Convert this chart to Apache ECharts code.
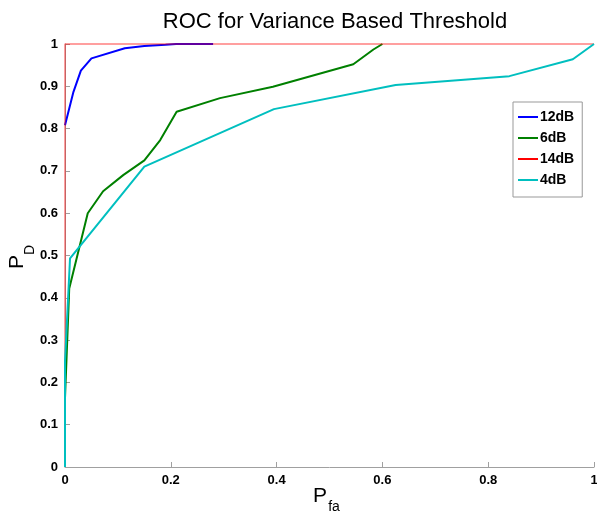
<!DOCTYPE html>
<html>
<head>
<meta charset="utf-8">
<script src="https://cdn.jsdelivr.net/npm/echarts@6/dist/echarts.min.js"></script>
<style>html,body{margin:0;padding:0;background:#fff;}#c{width:597px;height:512px;}</style>
</head>
<body>
<div id="c"></div>
<script>
const seriesNames = ['12dB', '6dB', '14dB', '4dB'];
const data12dB = [[0,0.808],[0.016,0.887],[0.03,0.937],[0.05,0.966],[0.113,0.99],[0.15,0.995],[0.19,0.998],[0.21,1],[0.28,1]];
const data6dB = [[0,0.163],[0.008,0.422],[0.043,0.60],[0.072,0.652],[0.11,0.69],[0.15,0.725],[0.18,0.773],[0.211,0.84],[0.293,0.872],[0.393,0.899],[0.545,0.952],[0.583,0.987],[0.6,1]];
const data14dB = [[0,0],[0,1],[1,1]];
const data4dB = [[0,0],[0,0.25],[0.0095,0.493],[0.15,0.71],[0.395,0.846],[0.625,0.903],[0.84,0.924],[0.96,0.964],[1,1]];
const xTicks = {min:0, max:1, interval:0.2};
const yTicks = {min:0, max:1, interval:0.1};
const titleText = 'ROC for Variance Based Threshold';
const xName = ['P', 'fa'];
const yName = ['P', 'D'];

const colors = ['#0000ff', '#008000', '#ff0000', '#00bfbf'];
const lineColors = ['#0000ff', '#008000', 'rgba(255,0,0,0.5)', '#00bfbf'];
const allData = [data12dB, data6dB, data14dB, data4dB];

const chart = echarts.init(document.getElementById('c'));
const FF = 'Liberation Sans, Arial, sans-serif';
const labelFont = {color:'#000', fontWeight:'bold', fontSize:13, fontFamily:FF};
chart.setOption({
  animation: false,
  backgroundColor: '#fff',
  title: {
    text: titleText,
    left: 330, top: 6, textAlign: 'center',
    textStyle: {fontSize: 22, fontWeight: 'normal', color: '#000', fontFamily: FF}
  },
  grid: {left: 65, top: 44, right: 3, bottom: 45, containLabel: false, outerBoundsMode: 'none'},
  legend: {
    orient: 'vertical',
    left: 513, top: 102,
    width: 70,
    padding: [8, 8, 10, 5],
    itemGap: 7,
    itemWidth: 20, itemHeight: 14,
    borderColor: '#999', borderWidth: 1, borderRadius: 0,
    backgroundColor: '#fff',
    icon: 'path://M0,6 L20,6 L20,8 L0,8 Z',
    textStyle: {color:'#000', fontWeight:'bold', fontSize:14, fontFamily:FF, padding:[0,0,0,-3]},
    data: seriesNames.map((n, i) => ({name: n, itemStyle: {color: colors[i]}}))
  },
  graphic: [
    {type:'text', x:320, y:496, style:{text:xName[0], font:'21px ' + FF, fill:'#000', align:'center', verticalAlign:'middle'}},
    {type:'text', x:334, y:507, style:{text:xName[1], font:'14px ' + FF, fill:'#000', align:'center', verticalAlign:'middle'}},
    {type:'text', x:17, y:262, rotation:Math.PI/2, style:{text:yName[0], font:'21px ' + FF, fill:'#000', align:'center', verticalAlign:'middle'}},
    {type:'text', x:30, y:250, rotation:Math.PI/2, style:{text:yName[1], font:'14px ' + FF, fill:'#000', align:'center', verticalAlign:'middle'}}
  ],
  xAxis: {
    type: 'value', min: xTicks.min, max: xTicks.max, interval: xTicks.interval,
    axisLine: {show: true, onZero: false, lineStyle: {color: '#a0a0a0', width: 1}},
    axisTick: {show: true, inside: true, length: 5, lineStyle: {color: '#a0a0a0'}},
    splitLine: {show: false},
    axisLabel: Object.assign({margin: 7}, labelFont)
  },
  yAxis: {
    type: 'value', min: yTicks.min, max: yTicks.max, interval: yTicks.interval,
    axisLine: {show: true, onZero: false, lineStyle: {color: '#a0a0a0', width: 1}},
    axisTick: {show: true, inside: true, length: 5, lineStyle: {color: '#a0a0a0'}},
    splitLine: {show: false},
    axisLabel: Object.assign({margin: 7}, labelFont)
  },
  series: seriesNames.map((n, i) => ({
    name: n, type: 'line', data: allData[i],
    showSymbol: false, symbol: 'none',
    itemStyle: {color: colors[i]},
    lineStyle: {color: lineColors[i], width: i === 2 ? 1.5 : 2},
    clip: false
  }))
});
</script>
</body>
</html>
